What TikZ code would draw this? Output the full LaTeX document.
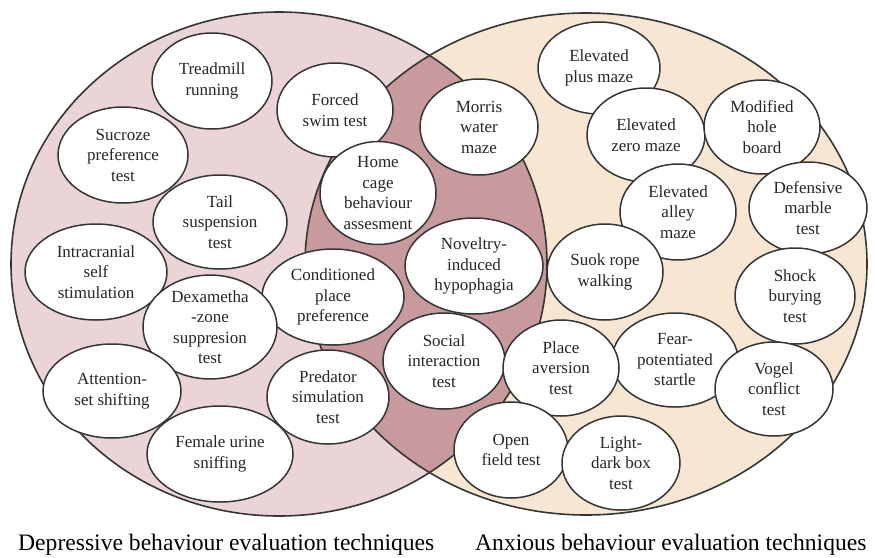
\documentclass[tikz,border=0pt]{standalone}
\usepackage{fontspec}
\setmainfont{Liberation Serif}
\usetikzlibrary{shapes.geometric}
\definecolor{depfill}{HTML}{EAD4D5}
\definecolor{anxfill}{HTML}{F6E6D2}
\definecolor{lensfill}{HTML}{C99A9D}
\definecolor{edge}{HTML}{353535}
\definecolor{ink}{HTML}{262626}
\tikzset{
  bub/.style 2 args={ellipse, draw=edge, line width=1.5pt, fill=white, inner sep=0pt,
    minimum width=#1, minimum height=#2, align=center, text=ink,
    font=\fontsize{17}{20.5}\selectfont},
  bigedge/.style={draw=edge, line width=1.6pt},
  caption/.style={anchor=base west, inner sep=0pt, text=black, font=\fontsize{23.6}{28}\selectfont}
}
\begin{document}
\begin{tikzpicture}[x=1pt,y=-1pt]
\useasboundingbox (0,0) rectangle (875,557);
\fill[white] (0,0) rectangle (875,557);
% big ellipses
\coordinate (lc) at (279,264);
\coordinate (rc) at (586,264);
\fill[depfill] (lc) ellipse [x radius=268pt, y radius=252pt];
\fill[anxfill] (rc) ellipse [x radius=281pt, y radius=251pt];
\begin{scope}
  \clip (lc) ellipse [x radius=268pt, y radius=252pt];
  \fill[lensfill] (rc) ellipse [x radius=281pt, y radius=251pt];
\end{scope}
\draw[bigedge] (lc) ellipse [x radius=268pt, y radius=252pt];
\draw[bigedge] (rc) ellipse [x radius=281pt, y radius=251pt];
% small ellipses
\node[bub={122pt}{92pt}] (plus) at (599,68) {Elevated\\plus maze};
\node[bub={120pt}{96pt}] (tread) at (212,81) {Treadmill\\running};
\node[bub={116pt}{94pt}] (forced) at (335,110) {Forced\\swim test};
\node[bub={118pt}{96pt}] (morris) at (479,127) {Morris\\water\\maze};
\node[bub={118pt}{94pt}] (zero) at (646,135) {Elevated\\zero maze};
\node[bub={116pt}{94pt}] (hole) at (762,127) {Modified\\hole\\board};
\node[bub={130pt}{96pt}] (sucr) at (123,155) {Sucroze\\preference\\test};
\node[bub={116pt}{94pt}] (home) at (378,193) {Home\\cage\\behaviour\\assesment};
\node[bub={134pt}{94pt}] (tail) at (220,222) {Tail\\suspension\\test};
\node[bub={116pt}{96pt}] (alley) at (678,212) {Elevated\\alley\\maze};
\node[bub={118pt}{92pt}] (marble) at (808,208) {Defensive\\marble\\test};
\node[bub={142pt}{96pt}] (intra) at (96,272) {Intracranial\\self\\stimulation};
\node[bub={138pt}{96pt}] (novel) at (474,266) {Noveltry-\\induced\\hypophagia};
\node[bub={116pt}{96pt}] (suok) at (605,272) {Suok rope\\walking};
\node[bub={120pt}{96pt}] (shock) at (795,296) {Shock\\burying\\test};
\node[bub={142pt}{96pt}] (cond) at (333,297) {Conditioned\\place\\preference};
\node[bub={134pt}{96pt}] (dexa) at (210,327) {Dexametha\\-zone\\suppresion\\test};
\node[bub={126pt}{94pt}] (fear) at (675,360) {Fear-\\potentiated\\startle};
\node[bub={122pt}{96pt}] (social) at (444,361) {Social\\interaction\\test};
\node[bub={116pt}{96pt}] (place) at (561,368) {Place\\aversion\\test};
\node[bub={118pt}{94pt}] (vogel) at (774,389) {Vogel\\conflict\\test};
\node[bub={138pt}{94pt}] (attn) at (112,391) {Attention-\\set shifting};
\node[bub={122pt}{94pt}] (pred) at (328,397) {Predator\\simulation\\test};
\node[bub={114pt}{96pt}] (open) at (511,450) {Open\\field test};
\node[bub={146pt}{96pt}] (female) at (220,454) {Female urine\\sniffing};
\node[bub={118pt}{94pt}] (light) at (621,463) {Light-\\dark box\\test};
% captions
\node[caption] (dep) at (18,550) {Depressive behaviour evaluation techniques};
\node[caption] (anx) at (475,550) {Anxious behaviour evaluation techniques};
\end{tikzpicture}
\end{document}
